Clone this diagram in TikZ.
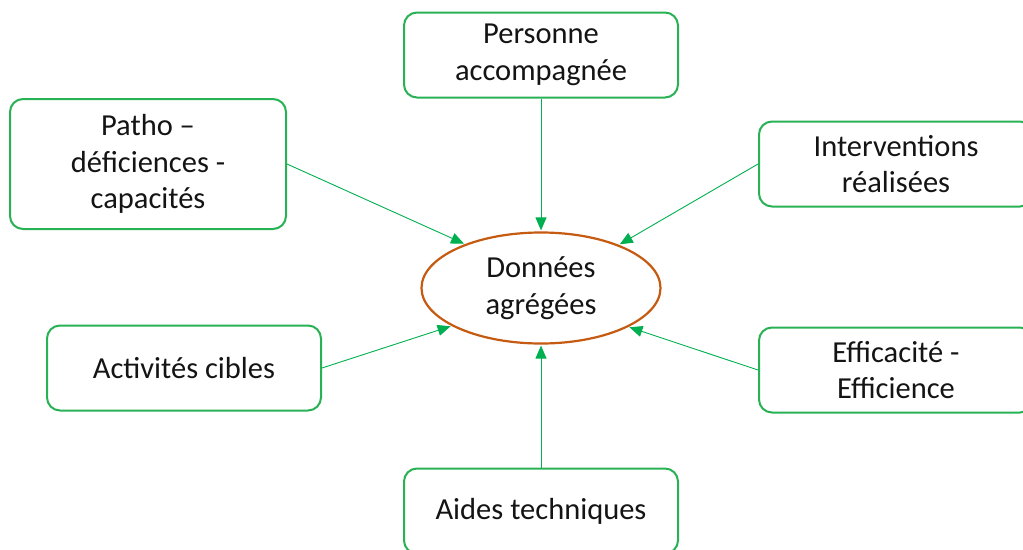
\documentclass[tikz,border=0pt]{standalone}
\usepackage{fontspec}
\setmainfont{Carlito}
\usetikzlibrary{shapes.geometric,arrows.meta}
\definecolor{boxgreen}{RGB}{40,178,85}
\definecolor{linkgreen}{RGB}{0,176,80}
\definecolor{hubbrown}{RGB}{197,90,17}
\tikzset{
  x=1pt, y=-1pt,
  topic/.style={draw=boxgreen, line width=2pt, rounded corners=13pt,
    minimum width=274pt, minimum height=85pt, align=center,
    font=\fontsize{30.5}{36.5}\selectfont, text=black!92, inner sep=0pt},
  hub/.style={ellipse, draw=hubbrown, line width=2.2pt, minimum width=239pt,
    minimum height=111pt, inner sep=0pt, align=center,
    font=\fontsize{30.5}{36.5}\selectfont, text=black!92},
  feed/.style={draw=linkgreen, line width=0.9pt,
    -{Triangle[length=13pt,width=11pt]}, shorten >=1pt}
}
\begin{document}
\begin{tikzpicture}
\useasboundingbox (0,0) rectangle (1023,549);
\clip (0,0) rectangle (1023,549);
\fill[white] (0,0) rectangle (1023,549);

% central hub
\node[hub] (data) at (541,288) {Données\\agrégées};

% surrounding topics
\node[topic] (person) at (541,55) {Personne\\accompagnée};
\node[topic, minimum width=276pt, minimum height=130pt] (patho) at (148,164) {Patho –\\déficiences -\\capacités};
\node[topic] (interv) at (896,164) {Interventions\\réalisées};
\node[topic] (activ) at (184,368) {Activités cibles};
\node[topic] (effic) at (896,370) {Efficacité -\\Efficience};
\node[topic] (aides) at (541,511) {Aides techniques};

% connectors into the hub
\draw[feed] (person.south) -- (data.north);
\draw[feed] (aides.north) -- (data.south);
\draw[feed] (patho.east) -- (data.150.8);
\draw[feed] (interv.west) -- (data.29.2);
\draw[feed] (activ.east) -- (data.203.8);
\draw[feed] (effic.west) -- (data.336.2);
\end{tikzpicture}
\end{document}
